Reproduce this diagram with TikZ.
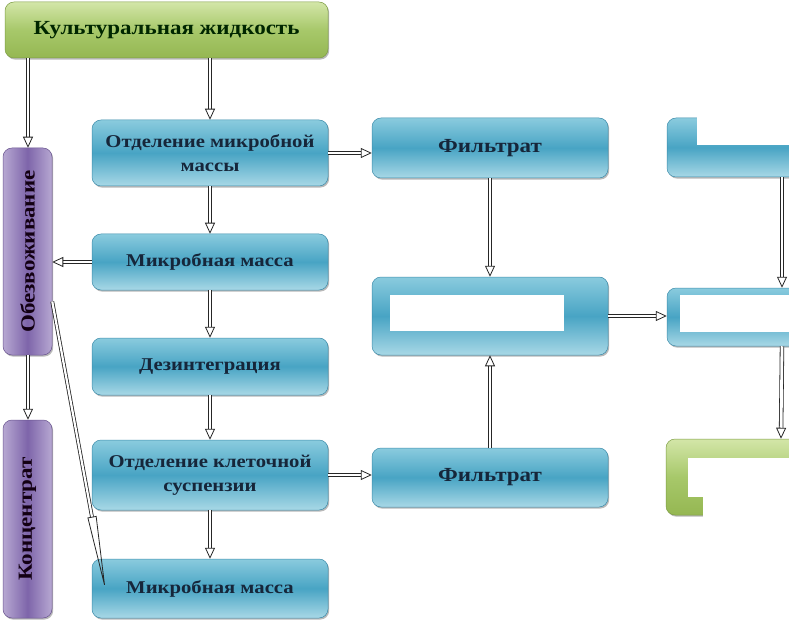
\documentclass[tikz,border=0pt]{standalone}
\usepackage{fontspec}
\setmainfont[FakeStretch=1.15]{Liberation Serif}
\usetikzlibrary{arrows.meta, shadows}
\definecolor{sinijVerh}{HTML}{8ACBDE}
\definecolor{sinijSer}{HTML}{48A4C4}
\definecolor{sinijNiz}{HTML}{A8D8E6}
\definecolor{sinijKraj}{HTML}{3E8DAB}
\definecolor{sinijTekst}{HTML}{16263A}
\definecolor{zelVerh}{HTML}{D3E6A8}
\definecolor{zelSer}{HTML}{A7C86A}
\definecolor{zelNiz}{HTML}{95B752}
\definecolor{zelKraj}{HTML}{7E9E45}
\definecolor{filKraj}{HTML}{B7A8D2}
\definecolor{filSer}{HTML}{7E65AA}
\definecolor{filLinija}{HTML}{6A5590}

\begin{document}
\begin{tikzpicture}[
      x=1pt, y=-1pt,
      >=Triangle,
      blok/.style={draw=sinijKraj, line width=0.5pt, rounded corners=9pt,
        top color=sinijVerh, bottom color=sinijNiz, middle color=sinijSer,
        drop shadow={shadow xshift=1.2pt, shadow yshift=-1.6pt, opacity=0.55},
        minimum width=236pt, align=center, text=sinijTekst, inner sep=2pt,
        font=\fontsize{18}{24}\selectfont\bfseries},
      zelenyj/.style={blok, draw=zelKraj, top color=zelVerh, bottom color=zelNiz,
        middle color=zelSer, text=black!85!green},
      fiolet/.style={blok, draw=filLinija, left color=filKraj, right color=filKraj,
        middle color=filSer, text=black!85!violet, minimum width=49pt,
        font=\fontsize{20}{24}\selectfont\bfseries},
      krupno/.style={font=\fontsize{20}{24}\selectfont\bfseries},
      strelka/.style={draw=black!85, line width=0.8pt, double=white,
        double distance=2.8pt, -{Triangle[open, length=11pt, width=10pt]}},
      dlinnaja/.style={strelka, double distance=2.2pt,
        -{Triangle[open, length=76pt, width=9pt]}},
      zaplatka/.style={fill=white, draw=none}
  ]
      \clip (0,0) rectangle (789,620);
      \fill[white] (0,0) rectangle (789,620);

      % Исходный блок
      \node[zelenyj, krupno, minimum width=323pt, minimum height=56pt] (kult) at (166.5,30) {Культуральная жидкость};

      % Левый столбец
      \node[fiolet, minimum height=207pt] (obez) at (27.5,251.5) {\rotatebox{90}{Обезвоживание}};
      \node[fiolet, minimum height=198pt] (konc) at (27.5,519) {\rotatebox{90}{Концентрат}};

      % Средний столбец
      \node[blok, minimum height=66pt] (otdmm) at (210,153) {Отделение микробной\\массы};
      \node[blok, minimum height=56pt] (mm1) at (210,262) {Микробная масса};
      \node[blok, minimum height=57pt] (dez) at (210,366.5) {Дезинтеграция};
      \node[blok, minimum height=70pt] (otdks) at (210,475) {Отделение клеточной\\суспензии};
      \node[blok, minimum height=59pt] (mm2) at (210,588.5) {Микробная масса};

      % Фильтраты
      \node[blok, krupno, minimum height=60pt] (filt1) at (490,148) {Фильтрат};
      \node[blok, minimum height=78pt] (sred) at (490,316) {};
      \node[blok, krupno, minimum height=59pt] (filt2) at (490,477.5) {Фильтрат};

      % Правый столбец
      \node[blok, minimum height=59pt] (pverh) at (785,147.5) {};
      \node[blok, minimum height=58pt] (psred) at (785,317) {};
      \node[zelenyj, minimum height=76pt] (pniz) at (784,477) {};

      % Закрытые места
      \fill[zaplatka] (390,295) rectangle (564,331);
      \fill[zaplatka] (697,115) rectangle (789,145);
      \fill[zaplatka] (680,295) rectangle (789,332);
      \fill[zaplatka] (688,458) rectangle (789,497);
      \fill[zaplatka] (703,458) rectangle (789,525);

      % Стрелки
      \draw[strelka] ([xshift=0.5pt]obez.north |- kult.south) -- ([xshift=0.5pt]obez.north);
      \draw[strelka] (otdmm.north |- kult.south) -- (otdmm.north);
      \draw[strelka] ([xshift=0.5pt]obez.south) -- ([xshift=0.5pt]konc.north);
      \draw[strelka] (otdmm) -- (mm1);
      \draw[strelka] (mm1) -- (dez);
      \draw[strelka] (dez) -- (otdks);
      \draw[strelka] (otdks) -- (mm2);
      \draw[strelka] (mm1.west) -- (mm1.west -| obez.east);
      \draw[strelka] (otdmm.east) -- (otdmm.east -| filt1.west);
      \draw[strelka] (otdks.east) -- (otdks.east -| filt2.west);
      \draw[strelka] (filt1) -- (sred);
      \draw[strelka] (filt2) -- (sred);
      \draw[strelka] (sred.east) -- (sred.east -| psred.west);
      \draw[strelka] ([xshift=-3pt]pverh.south) -- ([xshift=-3pt]psred.north);
      \draw[strelka] ([xshift=-3pt]psred.south) -- ([xshift=-3pt]pniz.north);
      \draw[dlinnaja] ([yshift=-50pt]obez.east) -- ([xshift=14pt,yshift=-3pt]mm2.west);

  \end{tikzpicture}
\end{document}
